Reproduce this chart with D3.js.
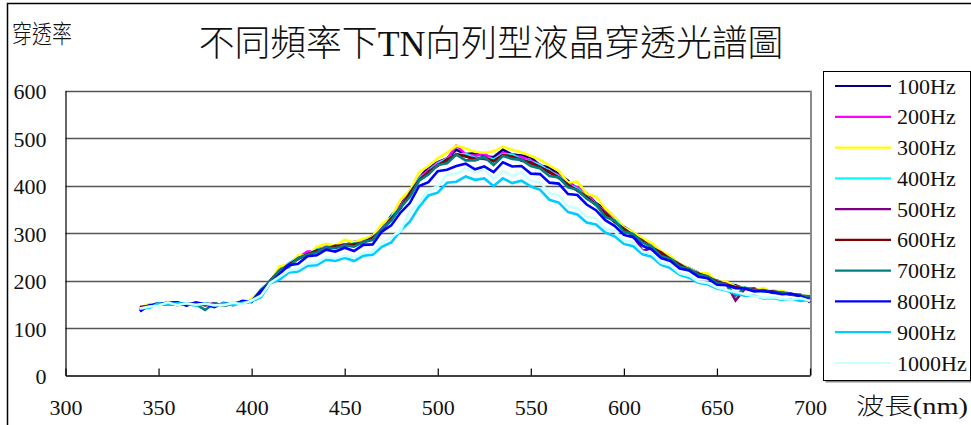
<!DOCTYPE html>
<html>
<head>
<meta charset="utf-8">
<script src="https://cdn.jsdelivr.net/npm/d3@7"></script>
<style>
  body { margin: 0; background: #fff; }
  svg { display: block; }
  text { font-family: 'Liberation Serif', 'Noto Sans CJK TC', serif; fill: #111; }
  .cjk { font-weight: 300; }
</style>
</head>
<body>
<svg id="chart" width="971" height="425"></svg>
<script>
// Wavelength samples (nm)
const wavelengths = [340,345,350,355,360,365,370,375,380,385,390,395,400,405,410,415,420,425,430,435,440,445,450,455,460,465,470,475,480,485,490,495,500,505,510,515,520,525,530,535,540,545,550,555,560,565,570,575,580,585,590,595,600,605,610,615,620,625,630,635,640,645,650,655,660,665,670,675,680,685,690,695,700];

// Transmission per drive frequency
const s100 = [136,148,152,152,154,148,152,148,152,147,151,155,157,177,197,222,235,249,255,266,268,274,275,281,282,294,308,336,358,389,415,439,449,457,475,466,468,461,460,475,465,463,459,442,438,424,410,392,383,363,350,326,313,301,284,273,258,249,234,226,216,205,200,192,190,182,183,177,178,177,171,170,154];
const s200 = [141,146,149,151,150,152,149,150,151,148,152,151,157,177,199,224,233,248,261,262,272,272,276,275,283,291,310,331,358,384,416,432,448,456,484,466,462,467,454,469,463,460,452,444,430,422,404,396,384,360,346,330,309,299,285,272,257,248,234,224,214,209,198,193,185,184,180,180,175,175,170,169,165];
const s300 = [142,151,147,155,148,153,149,152,149,147,154,151,161,179,197,230,233,253,252,271,277,273,286,280,288,293,319,333,370,389,428,441,457,469,484,478,471,469,472,482,475,470,462,454,442,431,406,408,383,376,352,334,312,302,289,279,262,251,235,226,215,215,197,198,187,184,180,184,175,178,170,169,167];
const s400 = [140,147,150,152,151,150,150,151,150,150,151,153,158,174,200,220,236,246,254,265,269,272,272,278,281,291,306,333,354,385,414,429,446,456,465,466,458,458,455,465,465,454,450,443,430,419,402,393,377,361,341,327,309,297,283,271,257,246,234,222,215,206,199,191,187,184,180,177,176,175,171,168,166];
const s500 = [143,145,151,150,152,149,150,152,148,150,150,152,157,178,198,218,234,245,256,262,269,271,275,274,281,289,307,328,354,383,412,428,444,452,466,461,457,456,452,463,460,455,447,439,427,417,402,389,375,359,342,324,307,295,262,269,257,245,233,223,214,205,197,193,158,183,181,178,176,173,172,168,165];
const s600 = [144,147,150,151,149,151,152,148,151,149,151,153,156,174,200,221,232,247,254,263,267,273,273,277,279,290,306,331,352,384,411,429,441,455,465,462,454,459,451,464,461,452,449,438,429,416,401,390,376,360,341,323,309,295,284,269,259,245,234,222,215,208,198,192,186,183,180,179,176,174,170,168,162];
const s700 = [139,147,148,154,148,152,150,138,152,147,151,155,155,181,198,222,228,247,254,259,270,268,274,271,281,285,309,326,354,376,410,423,443,447,465,453,453,460,443,462,456,454,441,436,420,417,396,391,372,360,334,326,303,298,280,271,251,246,229,225,212,209,194,192,168,185,179,180,174,175,171,168,167];
const s800 = [135,148,150,153,154,147,154,150,144,153,148,157,155,178,194,214,232,235,251,253,265,261,269,262,275,276,303,316,343,363,399,407,430,433,441,446,434,440,428,449,440,441,425,424,406,404,382,380,360,348,327,315,296,291,273,265,247,241,225,221,208,205,191,190,184,183,177,178,175,171,172,167,159];
const s900 = [141,142,152,149,152,151,147,152,147,152,148,153,156,165,194,202,217,219,231,232,244,241,248,241,252,254,271,280,305,324,355,379,385,406,408,419,412,415,399,415,405,410,398,391,370,364,344,339,322,318,301,293,277,272,255,250,233,226,212,206,195,192,183,179,172,168,168,162,163,159,161,157,159];
const s1000 = [141,145,147,154,148,152,149,151,148,148,153,150,158,168,195,208,221,224,236,238,249,247,252,249,258,260,279,291,305,346,363,391,398,424,424,437,427,433,414,431,420,428,410,407,384,379,356,352,334,331,310,304,284,281,261,256,237,232,215,210,198,195,185,180,176,171,167,164,165,161,160,163,157];

const seriesNames = ["100Hz","200Hz","300Hz","400Hz","500Hz","600Hz","700Hz","800Hz","900Hz","1000Hz"];
const seriesColors = ["#000080","#ff00ff","#ffff00","#00ffff","#800080","#800000","#008080","#0000ff","#00ccff","#ccffff"];
const seriesValues = [s100,s200,s300,s400,s500,s600,s700,s800,s900,s1000];

const xTicks = [300,350,400,450,500,550,600,650,700];
const yTicks = [0,100,200,300,400,500,600];

const titleText = "不同頻率下TN向列型液晶穿透光譜圖";
const yTitle = "穿透率";
const xTitle = "波長(nm)";

const svg = d3.select("#chart");
const x = d3.scaleLinear().domain([300, 700]).range([65.5, 810]);
const y = d3.scaleLinear().domain([0, 600]).range([375.5, 90.5]);

// outer chart frame (left and top edges)
svg.append("path")
  .attr("d", "M7.5,425 V3.5 H971")
  .attr("fill", "none").attr("stroke", "#000").attr("stroke-width", 1.5);

// horizontal gridlines
svg.append("g").selectAll("line")
  .data(yTicks.filter(t => t > 0))
  .join("line")
  .attr("x1", x(300)).attr("x2", x(700))
  .attr("y1", d => Math.round(y(d)) + 0.5).attr("y2", d => Math.round(y(d)) + 0.5)
  .attr("stroke", "#555").attr("stroke-width", 1.3);

// right border of plot area
svg.append("line")
  .attr("x1", x(700) + 1).attr("x2", x(700) + 1)
  .attr("y1", y(600)).attr("y2", y(0))
  .attr("stroke", "#8a8a8a").attr("stroke-width", 2);

// series lines, later frequencies drawn on top
const line = d3.line()
  .x((d, i) => x(wavelengths[i]))
  .y(d => y(d));

svg.append("g").selectAll("path")
  .data(seriesValues)
  .join("path")
  .attr("d", d => line(d))
  .attr("fill", "none")
  .attr("stroke", (d, i) => seriesColors[i])
  .attr("stroke-width", 2.6)
  .attr("stroke-linejoin", "miter");

// y axis
const yAxis = svg.append("g")
  .attr("transform", `translate(${x(300)},0)`)
  .call(d3.axisLeft(y).tickValues(yTicks).tickSize(0).tickSizeOuter(0).tickPadding(19));
yAxis.select(".domain").attr("stroke", "#000").attr("stroke-width", 1.2);
yAxis.selectAll("text")
  .attr("font-family", null).attr("font-size", null)
  .style("font-size", "22px").attr("dy", "0.38em");

// x axis with inward ticks
const xAxis = svg.append("g")
  .attr("transform", `translate(0,${y(0)})`)
  .call(d3.axisBottom(x).tickValues(xTicks).tickSizeInner(-7).tickSizeOuter(0));
xAxis.select(".domain").attr("stroke", "#000").attr("stroke-width", 1.4);
xAxis.selectAll(".tick line").attr("stroke", "#000").attr("stroke-width", 1.2);
xAxis.selectAll("text")
  .attr("font-family", null).attr("font-size", null)
  .style("font-size", "22px").attr("y", 39).attr("dy", 0);

// titles
svg.append("text")
  .attr("class", "cjk")
  .attr("x", 491).attr("y", 56)
  .attr("text-anchor", "middle")
  .style("font-size", "35.8px")
  .text(titleText);

svg.append("text")
  .attr("class", "cjk")
  .attr("x", 12).attr("y", 43)
  .style("font-size", "25px")
  .attr("textLength", 60).attr("lengthAdjust", "spacingAndGlyphs")
  .text(yTitle);

svg.append("text")
  .attr("class", "cjk")
  .attr("x", 856).attr("y", 414)
  .style("font-size", "23px")
  .attr("textLength", 112).attr("lengthAdjust", "spacingAndGlyphs")
  .text(xTitle);

// legend
const legend = svg.append("g");
legend.append("rect")
  .attr("x", 825.5).attr("y", 73.5).attr("width", 147).attr("height", 309)
  .attr("fill", "#8a8a8a");
legend.append("rect")
  .attr("x", 823.5).attr("y", 71.5).attr("width", 147).attr("height", 309)
  .attr("fill", "#fff").attr("stroke", "#000").attr("stroke-width", 1);

const rowY = d3.scaleLinear().domain([0, 9]).range([86, 363]);
const rows = legend.selectAll("g.row")
  .data(seriesNames)
  .join("g").attr("class", "row")
  .attr("transform", (d, i) => `translate(0,${rowY(i)})`);
rows.append("line")
  .attr("x1", 835).attr("x2", 891).attr("y1", 0).attr("y2", 0)
  .attr("stroke", (d, i) => seriesColors[i]).attr("stroke-width", 2.2);
rows.append("text")
  .attr("x", 897).attr("y", 7.5)
  .style("font-size", "22px")
  .text(d => d);
</script>
</body>
</html>
